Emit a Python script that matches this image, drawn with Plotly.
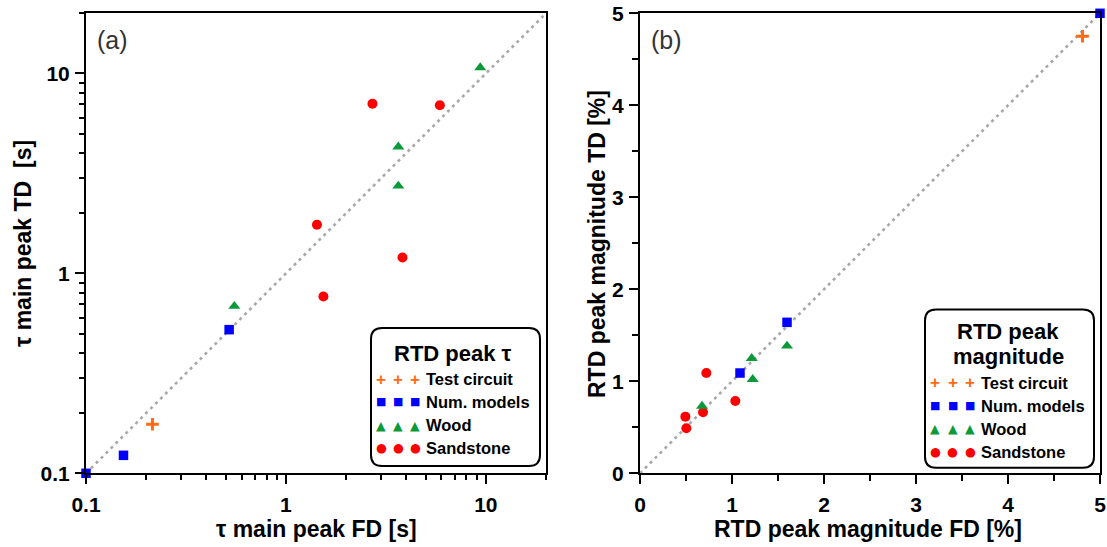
import plotly.graph_objects as go

# ---------------- data ----------------
# Panel (a): tau of main peak, FD (x) vs TD (y), seconds
tc_a_fd = [0.215]
tc_a_td = [0.176]
nm_a_fd = [0.1, 0.154, 0.52]
nm_a_td = [0.1, 0.123, 0.523]
wood_a_fd = [0.552, 3.65, 3.65, 9.38]
wood_a_td = [0.685, 4.30, 2.74, 10.7]
sand_a_fd = [1.43, 1.54, 2.71, 3.83, 5.89]
sand_a_td = [1.75, 0.767, 7.06, 1.20, 6.93]

# Panel (b): RTD peak magnitude, FD (x) vs TD (y), %
tc_b_fd = [4.81]
tc_b_td = [4.75]
nm_b_fd = [1.087, 1.598, 5.0]
nm_b_td = [1.09, 1.641, 5.0]
wood_b_fd = [0.674, 1.214, 1.225, 1.598]
wood_b_td = [0.731, 1.25, 1.022, 1.384]
sand_b_fd = [0.493, 0.504, 0.685, 0.721, 1.036]
sand_b_td = [0.616, 0.489, 0.663, 1.09, 0.786]

range_a = [0.1, 20]
range_b = [0, 5]

tick_a = [0.1, 1, 10]
tick_a_text = ["0.1", "1", "10"]
minor_a = [0.2, 0.3, 0.4, 0.5, 0.6, 0.7, 0.8, 0.9, 2, 3, 4, 5, 6, 7, 8, 9, 20]
tick_b = [0, 1, 2, 3, 4, 5]

groups = ["Test circuit", "Num. models", "Wood", "Sandstone"]

# ---------------- styles ----------------
ORANGE = "#FF6A13"
BLUE = "#0000FF"
GREEN = "#0B9A3A"
RED = "#FF0000"
W, H = 1107, 547
FONT = "Liberation Sans"

styles = {
    "Test circuit": dict(symbol="cross-thin", size=9, color=ORANGE,
                         line=dict(color=ORANGE, width=3)),
    "Num. models": dict(symbol="square", size=9.5, color=BLUE, line=dict(width=0)),
    "Wood": dict(symbol="triangle-up", size=10.5, color=GREEN, line=dict(width=0)),
    "Sandstone": dict(symbol="circle", size=10, color=RED, line=dict(width=0)),
}

fig = go.Figure()

# identity lines
fig.add_trace(go.Scatter(x=range_a, y=range_a, mode="lines", xaxis="x", yaxis="y",
                         line=dict(color="#A8A8A8", width=2.6, dash="3px,4px"),
                         showlegend=False, hoverinfo="skip"))
fig.add_trace(go.Scatter(x=range_b, y=range_b, mode="lines", xaxis="x2", yaxis="y2",
                         line=dict(color="#A8A8A8", width=2.6, dash="3px,4px"),
                         showlegend=False, hoverinfo="skip"))

data_a = {"Test circuit": (tc_a_fd, tc_a_td), "Num. models": (nm_a_fd, nm_a_td),
          "Wood": (wood_a_fd, wood_a_td), "Sandstone": (sand_a_fd, sand_a_td)}
data_b = {"Test circuit": (tc_b_fd, tc_b_td), "Num. models": (nm_b_fd, nm_b_td),
          "Wood": (wood_b_fd, wood_b_td), "Sandstone": (sand_b_fd, sand_b_td)}

for g in ["Sandstone", "Wood", "Num. models", "Test circuit"]:
    x, y = data_a[g]
    fig.add_trace(go.Scatter(x=x, y=y, mode="markers", xaxis="x", yaxis="y",
                             marker=styles[g], name=g, showlegend=False, cliponaxis=False))
    x, y = data_b[g]
    fig.add_trace(go.Scatter(x=x, y=y, mode="markers", xaxis="x2", yaxis="y2",
                             marker=styles[g], name=g, showlegend=False, cliponaxis=False))

# ---------------- axes ----------------
def px_x(X):
    return X / W

def px_y(Y):
    return 1 - Y / H

tickfont = dict(family=FONT, size=21, color="black", weight="bold")
common = dict(showline=True, linecolor="black", linewidth=2, mirror=True,
              ticks="outside", ticklen=9, tickwidth=2, tickcolor="black",
              showgrid=False, zeroline=False, tickfont=tickfont, automargin=False,
              fixedrange=True)

ydom = [px_y(473.3), px_y(13.3)]

fig.update_layout(
    width=W, height=H,
    margin=dict(l=0, r=0, t=0, b=0),
    paper_bgcolor="white", plot_bgcolor="white",
    showlegend=False,
    xaxis=dict(domain=[px_x(86), px_x(546)], type="log",
               range=[-1, 1.30103], tickvals=tick_a, ticktext=tick_a_text,
               ticklabelstandoff=2,
               minor=dict(tickvals=minor_a, ticks="outside", ticklen=5, tickwidth=2,
                          tickcolor="black", showgrid=False),
               anchor="y", **common),
    yaxis=dict(domain=ydom, type="log",
               range=[-1, 1.30103], tickvals=tick_a, ticktext=tick_a_text,
               ticklabelstandoff=1,
               minor=dict(tickvals=minor_a, ticks="outside", ticklen=5, tickwidth=2,
                          tickcolor="black", showgrid=False),
               anchor="x", **common),
    xaxis2=dict(domain=[px_x(640), px_x(1100)], range=range_b, tickvals=tick_b,
                ticklabelstandoff=2,
                minor=dict(dtick=0.5, ticks="outside", ticklen=6, tickwidth=2,
                           tickcolor="black", showgrid=False),
                anchor="y2", **common),
    yaxis2=dict(domain=ydom, range=range_b, tickvals=tick_b,
                ticklabelstandoff=1,
                minor=dict(dtick=0.5, ticks="outside", ticklen=6, tickwidth=2,
                           tickcolor="black", showgrid=False),
                anchor="x2", **common),
)

annotations = []
shapes = []

def ann(text, X, Y, size, bold=True, xanchor="center", angle=0, color="black",
        family=FONT):
    annotations.append(dict(
        text=text, x=px_x(X), y=px_y(Y), xref="paper", yref="paper",
        xanchor=xanchor, yanchor="middle", showarrow=False, textangle=angle,
        font=dict(family=family, size=size, color=color,
                  weight="bold" if bold else "normal")))

# axis titles
ann("τ main peak FD [s]", 316, 529, 23)
ann("τ main peak TD  [s]", 23, 244, 23, angle=-90)
ann("RTD peak magnitude FD [%]", 868, 529, 23)
ann("RTD peak magnitude TD [%]", 597, 244, 23, angle=-90)

# panel labels
ann("(a)", 95, 40, 25, bold=False, xanchor="left", color="#333333")
ann("(b)", 649, 40, 25, bold=False, xanchor="left", color="#333333")


# ---------------- custom legends ----------------
def rounded_box(x0, y0, x1, y1, r):
    rx, ry = r / W, r / H
    X0, X1 = px_x(x0), px_x(x1)
    Y0, Y1 = px_y(y1), px_y(y0)  # bottom, top in paper
    p = (f"M {X0+rx},{Y0} L {X1-rx},{Y0} Q {X1},{Y0} {X1},{Y0+ry} "
         f"L {X1},{Y1-ry} Q {X1},{Y1} {X1-rx},{Y1} "
         f"L {X0+rx},{Y1} Q {X0},{Y1} {X0},{Y1-ry} "
         f"L {X0},{Y0+ry} Q {X0},{Y0} {X0+rx},{Y0} Z")
    shapes.append(dict(type="path", path=p, xref="paper", yref="paper",
                       line=dict(color="black", width=2), fillcolor="white",
                       layer="above"))

glyphs = {"Test circuit": ("+", ORANGE, 17), "Num. models": ("■", BLUE, 11),
          "Wood": ("▲", GREEN, 12.5), "Sandstone": ("●", RED, 12.5)}


def legend(box, title_lines, title_x, title_ys, rows_y, sym_xs, text_x):
    rounded_box(*box, 11)
    for t, ty in zip(title_lines, title_ys):
        ann(t, title_x, ty, 22)
    for g, ry in zip(groups, rows_y):
        ch, col, sz = glyphs[g]
        fam = FONT if ch == "+" else "DejaVu Sans"
        for sx in sym_xs:
            ann(ch, sx, ry, sz, bold=True, color=col, family=fam)
        ann(g, text_x, ry, 16.5, xanchor="left")


legend((371, 328, 540, 466), ["RTD peak τ"], 453, [353],
       [379.3, 401.7, 425.3, 447.7], [381, 398.3, 415], 424)
legend((925, 309.6, 1094, 467.7), ["RTD peak", "magnitude"], 1008, [331.6, 356.7],
       [382.9, 405.9, 428.6, 451.7], [935.2, 952.7, 970.1], 978.5)

fig.update_layout(annotations=annotations, shapes=shapes)

fig.write_html("out.html")
